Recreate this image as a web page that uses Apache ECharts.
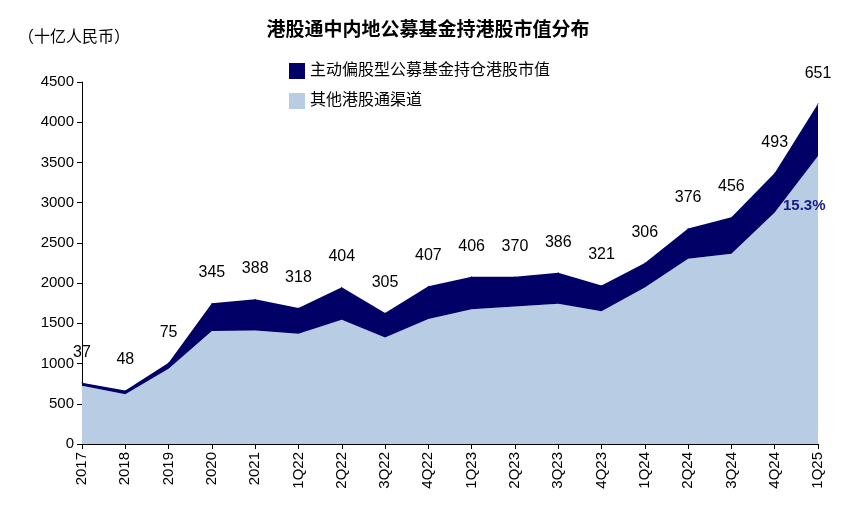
<!DOCTYPE html>
<html><head><meta charset="utf-8">
<script src="https://cdn.jsdelivr.net/npm/echarts@6/dist/echarts.min.js"></script>
<style>body{margin:0}#c{width:856px;height:518px}</style>
</head><body><div id="c"></div>
<script>
const categories = ['2017','2018','2019','2020','2021','1Q22','2Q22','3Q22','4Q22','1Q23','2Q23','3Q23','4Q23','1Q24','2Q24','3Q24','4Q24','1Q25'];
// 其他港股通渠道
const otherValues = [723,617,935,1405,1412,1372,1546,1325,1553,1674,1710,1744,1649,1944,2304,2364,2877,3579];
// 主动偏股型公募基金持仓港股市值
const activeValues = [37,48,75,345,388,318,404,305,407,406,370,386,321,306,376,456,493,651];

const chart = echarts.init(document.getElementById('c'));
const font = '"Liberation Sans", "Noto Sans CJK SC", sans-serif';
chart.setOption({
  textStyle: {fontFamily: font},
  title: {text: '港股通中内地公募基金持港股市值分布', left: 'center', top: 16,
    textStyle: {fontSize: 19, fontWeight: 'bold', color: '#000', fontFamily: font}},
  graphic: [
    {type: 'text', left: 18, top: 30, z: 100, style: {text: '（十亿人民币）', fontSize: 16, fill: '#000', fontFamily: font}},
    {type: 'text', left: 783, top: 198, z: 100, style: {text: '15.3%', fontSize: 15, fontWeight: 'bold', fill: '#1a1a8c', fontFamily: font}}
  ],
  legend: {orient: 'vertical', left: 284, top: 58, itemGap: 14, itemWidth: 16, itemHeight: 16,
    textStyle: {fontSize: 16, color: '#000'},
    data: [{name: '主动偏股型公募基金持仓港股市值', icon: 'rect'}, {name: '其他港股通渠道', icon: 'rect'}]},
  grid: {left: 82, right: 38, top: 82, bottom: 74},
  xAxis: {type: 'category', data: categories, boundaryGap: false,
    axisLine: {lineStyle: {color: '#000'}}, axisTick: {show: true, lineStyle: {color: '#000'}},
    axisLabel: {rotate: 90, fontSize: 15, color: '#000'}},
  yAxis: {type: 'value', min: 0, max: 4500, interval: 500, splitLine: {show: false},
    axisLine: {show: true, lineStyle: {color: '#000'}}, axisTick: {show: true},
    axisLabel: {fontSize: 15, color: '#000', formatter: v => String(v)}},
  series: [
    {name: '其他港股通渠道', type: 'line', stack: 'a', data: otherValues, symbol: 'none',
      lineStyle: {width: 0}, itemStyle: {color: '#b8cce4'}, areaStyle: {color: '#b8cce4', opacity: 1}},
    {name: '主动偏股型公募基金持仓港股市值', type: 'line', stack: 'a', data: activeValues,
      symbol: 'circle', symbolSize: 1, showAllSymbol: true,
      lineStyle: {width: 0}, itemStyle: {color: '#000066'}, areaStyle: {color: '#000066', opacity: 1},
      label: {show: true, position: 'top', distance: 22, fontSize: 16, color: '#000'}}
  ]
});
</script></body></html>
